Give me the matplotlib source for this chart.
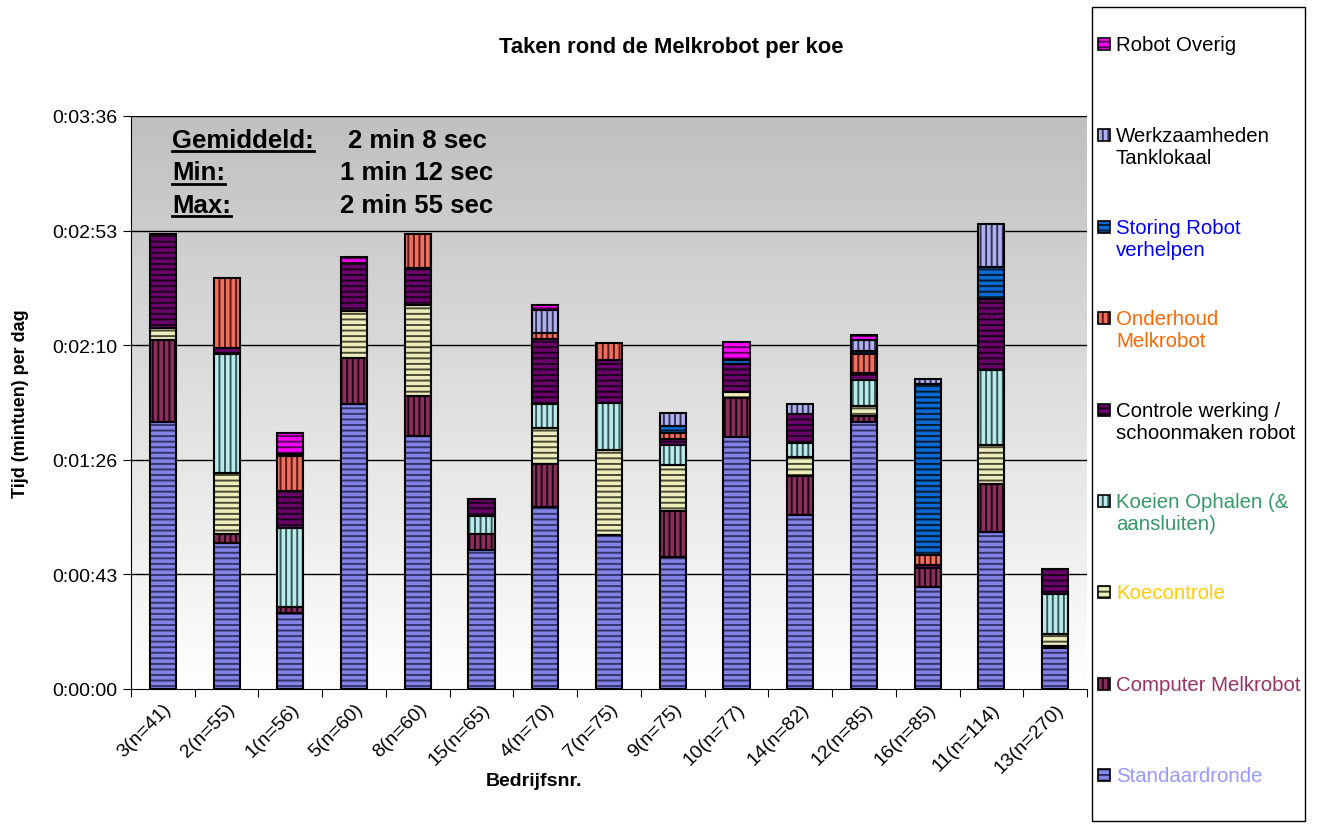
import numpy as np
import matplotlib
matplotlib.use('Agg')
import matplotlib.pyplot as plt
from matplotlib.patches import Rectangle
from matplotlib.lines import Line2D
from matplotlib.ticker import FuncFormatter

plt.rcParams['font.family'] = ['Liberation Sans', 'DejaVu Sans']
plt.rcParams['hatch.linewidth'] = 1.4

# bedrijven (x-as)
categories = ['3(n=41)', '2(n=55)', '1(n=56)', '5(n=60)', '8(n=60)', '15(n=65)', '4(n=70)',
              '7(n=75)', '9(n=75)', '10(n=77)', '14(n=82)', '12(n=85)', '16(n=85)',
              '11(n=114)', '13(n=270)']

# tijden in seconden per koe per dag
standaard = [100.8, 55.2, 28.5, 107.5, 95.5, 52.3, 68.7, 58.1, 49.9, 94.9, 65.6, 100.6, 38.6, 59.3, 15.6]
computer = [30.9, 3.4, 2.5, 17.4, 15.1, 6.3, 16.1, 0, 17.3, 14.7, 14.6, 2.3, 6.9, 17.8, 0.5]
koecontrole = [4.2, 23.0, 0, 17.6, 34.0, 0, 13.5, 32.0, 17.4, 2.3, 7.2, 3.7, 0, 15.0, 4.8]
koeien = [0, 44.7, 29.6, 0, 0, 6.7, 9.2, 17.8, 7.2, 0, 5.4, 9.8, 0, 28.3, 15.0]
controle = [35.5, 2.3, 14.1, 17.9, 14.1, 6.5, 24.3, 16.0, 2.5, 10.7, 11.0, 2.9, 1.3, 26.8, 9.2]
onderhoud = [0, 26.3, 13.0, 0, 13.0, 0, 2.5, 6.5, 2.3, 0, 0, 6.8, 3.8, 0, 0]
storing = [0, 0, 0.9, 0, 0, 0, 0, 0, 2.5, 1.3, 0, 1.3, 64.2, 11.7, 0]
werkzaamheden = [0, 0, 0, 0, 0, 0, 8.7, 0, 4.9, 0, 3.8, 4.2, 2.1, 16.4, 0]
robot_overig = [0, 0, 7.8, 2.5, 0, 0, 1.9, 0, 0, 6.9, 0, 1.9, 0, 0, 0]

labels = ['Standaardronde', 'Computer Melkrobot', 'Koecontrole', 'Koeien Ophalen (&\naansluiten)',
          'Controle werking /\nschoonmaken robot', 'Onderhoud\nMelkrobot', 'Storing Robot\nverhelpen',
          'Werkzaamheden\nTanklokaal', 'Robot Overig']
series = [standaard, computer, koecontrole, koeien, controle, onderhoud, storing, werkzaamheden, robot_overig]

yticks_sec = [0, 43.2, 86.4, 129.6, 172.8, 216]
stats_names = ['Gemiddeld:', 'Min:', 'Max:']
stats_values = ['2 min 8 sec', '1 min 12 sec', '2 min 55 sec']

faces = ['#8383e6', '#8a2f5c', '#eeeebc', '#b8ecec', '#6a006a', '#f07060', '#0a6ad0', '#b0b0ee', '#ff00ff']
hatchcol = ['#34346c', '#1a0510', '#4a4a34', '#3a5555', '#1a001a', '#551a1a', '#001a33', '#333355', '#550055']
hatches = ['---', '|||', '---', '|||', '---', '|||', '---', '|||', '---']
textcol = ['#9999ff', '#993366', '#ffcc00', '#339966', 'black', '#ff6600', '#0000ff', 'black', 'black']

fig = plt.figure(figsize=(13.17, 8.28), dpi=100)
ax = fig.add_axes([131/1317, 1-690/828, 956/1317, 573/828])

# achtergrond verloop
grad = np.linspace(0, 1, 256).reshape(-1, 1)
ax.imshow(grad, extent=[0, 1, 0, 1], transform=ax.transAxes, aspect='auto',
          cmap=matplotlib.colors.LinearSegmentedColormap.from_list('g', ['#ffffff', '#c0c0c0']),
          origin='lower', zorder=0)

x = np.arange(len(categories))
w = 0.41
bottom = np.zeros(len(categories))
for vals, fc, hc, h in zip(series, faces, hatchcol, hatches):
    vals = np.array(vals, dtype=float)
    m = vals > 0
    ax.bar(x[m], vals[m], w, bottom=bottom[m], color=fc, edgecolor=hc, hatch=h, linewidth=0, zorder=3)
    ax.bar(x[m], vals[m], w, bottom=bottom[m], fill=False, edgecolor='black', linewidth=1.5, zorder=4)
    bottom += vals

ax.set_xlim(-0.5, len(categories) - 0.5)
ax.set_ylim(0, 216)
ax.set_yticks(yticks_sec)
ax.yaxis.set_major_formatter(FuncFormatter(
    lambda v, p: '%d:%02d:%02d' % (round(v) // 3600, round(v) % 3600 // 60, round(v) % 60)))
for y in yticks_sec[1:]:
    ax.axhline(y, color='black', lw=1, zorder=1)

ax.set_xticks(np.arange(len(categories) + 1) - 0.5)
ax.set_xticklabels([])
ax.set_xticks(x, minor=True)
ax.set_xticklabels(categories, minor=True, rotation=45, ha='right', va='top', rotation_mode='anchor')
ax.tick_params(axis='x', which='minor', length=0, pad=8, labelsize=14)
ax.tick_params(axis='x', which='major', length=6, direction='out')
ax.tick_params(axis='y', length=6, labelsize=14)
for s in ['top', 'right']:
    ax.spines[s].set_visible(False)

ax.set_ylabel('Tijd (mintuen) per dag', fontsize=13, fontweight='bold')
ax.yaxis.set_label_coords((29 - 131) / 956, 0.5)
ax.set_xlabel('Bedrijfsnr.', fontsize=14, fontweight='bold')
ax.xaxis.set_label_coords((534 - 131) / 956, (690 - 773) / 573)
fig.text(671/1317, 1 - 47/828, 'Taken rond de Melkrobot per koe', fontsize=15.8, fontweight='bold',
         ha='center', va='center')

# statistieken
name_texts = []
for i, (n, v) in enumerate(zip(stats_names, stats_values)):
    yy = 1 - (141 + 32.5 * i) / 828
    t = fig.text(172/1317, yy, n, fontsize=18.5, fontweight='bold', ha='left', va='center')
    name_texts.append(t)
    fig.text(417/1317, yy, v, fontsize=18.5, fontweight='bold', ha='center', va='center')

# legenda
fig.add_artist(Rectangle((1092/1317, 1 - 822/828), 213/1317, 814/828, transform=fig.transFigure,
                         fill=False, edgecolor='black', linewidth=1))
for k in range(len(series)):
    i = len(series) - 1 - k
    yc = 45 + 91.4 * k
    fig.add_artist(Rectangle((1098/1317, 1 - (yc + 6)/828), 12/1317, 12/828, transform=fig.transFigure,
                             facecolor=faces[i], edgecolor=hatchcol[i], hatch=hatches[i], linewidth=0))
    fig.add_artist(Rectangle((1098/1317, 1 - (yc + 6)/828), 12/1317, 12/828, transform=fig.transFigure,
                             fill=False, edgecolor='black', linewidth=1.2))
    fig.text(1116/1317, 1 - (yc - 9)/828, labels[i], fontsize=14.7, color=textcol[i],
             ha='left', va='top', linespacing=1.2)

# onderstreping
fig.canvas.draw()
r = fig.canvas.get_renderer()
for t in name_texts:
    bb = t.get_window_extent(r)
    fig.add_artist(Line2D([bb.x0 / 1317, bb.x1 / 1317], [(bb.y0 + 1) / 828] * 2,
                          transform=fig.transFigure, color='black', lw=2))

fig.savefig('out.png', dpi=100)
